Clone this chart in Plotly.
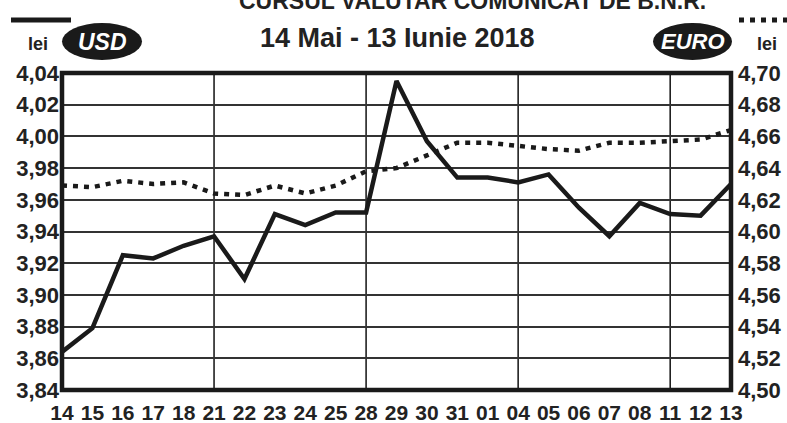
import plotly.graph_objects as go

# Trading days, 14 May - 13 June 2018
days = ["14", "15", "16", "17", "18", "21", "22", "23", "24", "25", "28", "29",
        "30", "31", "01", "04", "05", "06", "07", "08", "11", "12", "13"]

# BNR reference rates (lei per unit)
usd = [3.864, 3.879, 3.925, 3.923, 3.931, 3.937, 3.910, 3.951, 3.944, 3.952, 3.952, 4.035,
       3.997, 3.974, 3.974, 3.971, 3.976, 3.955, 3.937, 3.958, 3.951, 3.950, 3.970]
eur = [4.629, 4.628, 4.632, 4.630, 4.631, 4.624, 4.623, 4.629, 4.624, 4.629, 4.638, 4.640,
       4.648, 4.656, 4.656, 4.654, 4.652, 4.651, 4.656, 4.656, 4.657, 4.658, 4.664]

# Mondays get a vertical rule
week_starts = ["21", "28", "04", "11"]

W, H = 787, 423
L, R, T, B = 62, 731, 73, 390


def px(x):
    return (x - L) / (R - L)


def py(y):
    return (B - y) / (B - T)


BOLD = "Liberation Sans, Arial, sans-serif"
DOT = "5px,6px"

fig = go.Figure()
fig.add_trace(go.Scatter(x=days, y=usd, mode="lines", yaxis="y",
                         line=dict(color="#1a1a1a", width=4.5), showlegend=False))
fig.add_trace(go.Scatter(x=days, y=eur, mode="lines", yaxis="y2",
                         line=dict(color="#1a1a1a", width=4.5, dash=DOT), showlegend=False))

shapes = []
for d in week_starts:
    i = days.index(d)  # numeric-looking categories must be addressed by index
    shapes.append(dict(type="line", xref="x", yref="paper", x0=i, x1=i, y0=0, y1=1,
                       line=dict(color="#111", width=1.5), layer="below"))
# frame
shapes.append(dict(type="rect", xref="paper", yref="paper", x0=0, x1=1, y0=0, y1=1,
                   line=dict(color="#1a1a1a", width=4.5), layer="above"))
# legend keys
shapes.append(dict(type="line", xref="paper", yref="paper", x0=px(11), x1=px(71),
                   y0=py(20), y1=py(20), line=dict(color="#1a1a1a", width=5)))
shapes.append(dict(type="line", xref="paper", yref="paper", x0=px(739), x1=px(790),
                   y0=py(20), y1=py(20), line=dict(color="#1a1a1a", width=5, dash=DOT)))
shapes.append(dict(type="circle", xref="paper", yref="paper", x0=px(62), x1=px(142),
                   y0=py(60), y1=py(23), fillcolor="#1a1a1a", line=dict(width=0)))
shapes.append(dict(type="circle", xref="paper", yref="paper", x0=px(653), x1=px(732),
                   y0=py(60), y1=py(23), fillcolor="#1a1a1a", line=dict(width=0)))

ann = [
    dict(text="<b>CURSUL VALUTAR COMUNICAT DE B.N.R.</b>", x=px(472), y=py(1),
         font=dict(family=BOLD, size=23, color="#222")),
    dict(text="<b>14 Mai - 13 Iunie 2018</b>", x=px(397), y=py(38),
         font=dict(family=BOLD, size=27, color="#222")),
    dict(text="<b>lei</b>", x=px(38), y=py(44), font=dict(family=BOLD, size=18, color="#222")),
    dict(text="<b>lei</b>", x=px(767), y=py(44), font=dict(family=BOLD, size=18, color="#222")),
    dict(text="<b><i>USD</i></b>", x=px(102), y=py(42), font=dict(family=BOLD, size=23, color="white")),
    dict(text="<b><i>EURO</i></b>", x=px(693), y=py(42), font=dict(family=BOLD, size=22, color="white")),
]
for a in ann:
    a.update(xref="paper", yref="paper", showarrow=False, xanchor="center", yanchor="middle")

fig.update_layout(
    width=W, height=H,
    margin=dict(l=L, r=W - R, t=T, b=H - B),
    paper_bgcolor="white", plot_bgcolor="white",
    separators=",.",
    shapes=shapes, annotations=ann,
    xaxis=dict(type="category", range=[0, len(days) - 1], showgrid=False, zeroline=False,
               showline=False, ticks="", tickangle=0, ticklabelstandoff=8, automargin=False,
               tickfont=dict(family=BOLD, size=21, color="#222", weight="bold")),
    yaxis=dict(range=[3.84, 4.04], dtick=0.02, tick0=3.84, tickformat=".2f",
               showgrid=True, gridcolor="#333", gridwidth=1.5, zeroline=False,
               showline=False, ticks="", ticklabelstandoff=2, automargin=False,
               tickfont=dict(family=BOLD, size=22, color="#222", weight="bold")),
    yaxis2=dict(range=[4.50, 4.70], dtick=0.02, tick0=4.50, tickformat=".2f",
                overlaying="y", side="right", showgrid=False, zeroline=False,
                showline=False, ticks="", ticklabelstandoff=6, automargin=False,
                tickfont=dict(family=BOLD, size=22, color="#222", weight="bold")),
)

fig.write_html("out.html")
